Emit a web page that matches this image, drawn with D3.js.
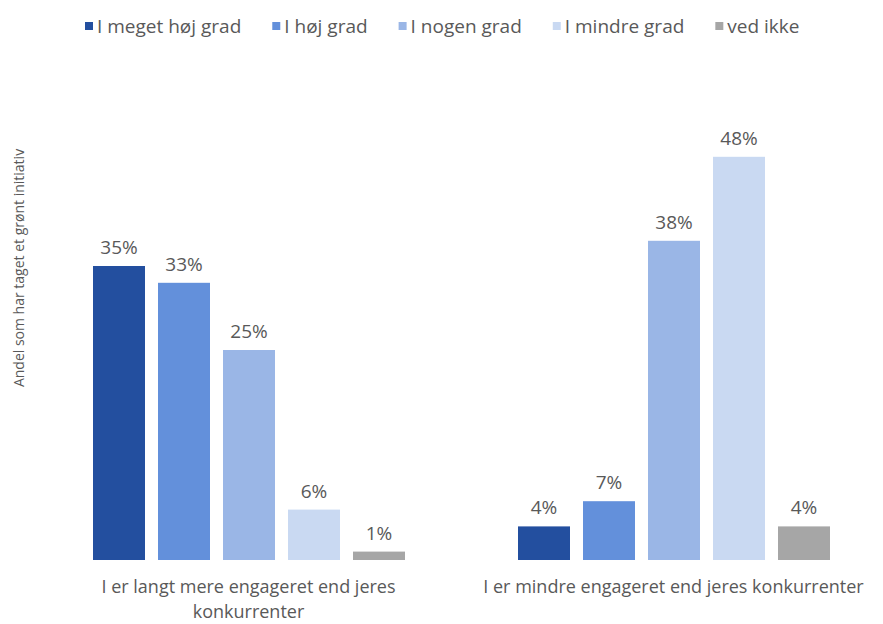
<!DOCTYPE html>
<html>
<head>
<meta charset="utf-8">
<script src="https://cdn.jsdelivr.net/npm/d3@7"></script>
<style>
  body { margin: 0; background: #fff; }
  svg text { font-family: "Open Sans", sans-serif; fill: #595959; }
</style>
</head>
<body>
<div id="chart"></div>
<script>
// data
const categories = ['I er langt mere engageret end jeres konkurrenter', 'I er mindre engageret end jeres konkurrenter'];
const seriesNames = ['I meget høj grad', 'I høj grad', 'I nogen grad', 'I mindre grad', 'ved ikke'];
const seriesColors = ['#234f9f', '#6390db', '#9ab6e6', '#c9d9f2', '#a6a6a6'];
const mereValues = [35, 33, 25, 6, 1];
const mindreValues = [4, 7, 38, 48, 4];
const yTitle = 'Andel som har taget et grønt initiativ';

const width = 883, height = 624;
const baseY = 560;

let svg = d3.select('#chart')
    .append('svg')
    .attr('width', width)
    .attr('height', height);

let x0 = d3.scaleBand()
    .domain(categories)
    .range([36, 886]);

let x1 = d3.scaleBand()
    .domain(seriesNames)
    .range([57, 369])
    .paddingInner(0.2)
    .paddingOuter(0);

let y = d3.scaleLinear()
    .domain([0, 50])
    .range([baseY, baseY - 420]);

let rows = categories.map((c, i) => ({
    cat: c,
    values: (i === 0 ? mereValues : mindreValues).map((v, j) => ({ name: seriesNames[j], value: v }))
}));

//bars
let groups = svg.selectAll('.group')
    .data(rows)
    .enter().append('g')
    .attr('class', 'group')
    .attr('transform', d => `translate(${x0(d.cat)},0)`);

groups.selectAll('rect')
    .data(d => d.values)
    .enter().append('rect')
    .attr('x', d => x1(d.name))
    .attr('y', d => y(d.value))
    .attr('width', x1.bandwidth())
    .attr('height', d => baseY - y(d.value))
    .attr('fill', (d, i) => seriesColors[i]);

//value labels
groups.selectAll('.val')
    .data(d => d.values)
    .enter().append('text')
    .attr('class', 'val')
    .attr('x', d => x1(d.name) + x1.bandwidth() / 2)
    .attr('y', d => y(d.value) - 12)
    .attr('text-anchor', 'middle')
    .style('font-size', '19px')
    .text(d => d.value + '%');

//category labels
let catText = svg.selectAll('.cat')
    .data(categories)
    .enter().append('text')
    .attr('class', 'cat')
    .attr('text-anchor', 'middle')
    .style('font-size', '18px')
    .attr('y', 593);

catText.each(function(d) {
    let t = d3.select(this);
    let cx = x0(d) + x0.bandwidth() / 2;
    let words = d.split(' ');
    let lines = [[]];
    words.forEach(w => {
        let cur = lines[lines.length - 1];
        let test = cur.concat([w]).join(' ');
        t.text(test);
        if (this.getComputedTextLength() > 395 && cur.length) lines.push([w]);
        else cur.push(w);
    });
    t.text(null);
    lines.forEach((l, i) => {
        t.append('tspan')
            .attr('x', cx)
            .attr('dy', i === 0 ? 0 : 25)
            .text(l.join(' '));
    });
});

//y title
svg.append('text')
    .attr('transform', 'translate(24,268) rotate(-90)')
    .attr('text-anchor', 'middle')
    .style('font-size', '14px')
    .text(yTitle);

//legend
let legend = svg.append('g').attr('class', 'legend');
let lx = 85;
seriesNames.forEach((name, i) => {
    let g = legend.append('g').attr('transform', `translate(${lx},0)`);
    g.append('rect')
        .attr('x', 0)
        .attr('y', 22)
        .attr('width', 8)
        .attr('height', 8)
        .attr('fill', seriesColors[i]);
    let t = g.append('text')
        .attr('x', 12)
        .attr('y', 33)
        .style('font-size', '19px')
        .text(name);
    lx += 12 + t.node().getComputedTextLength() + 31;
});
</script>
</body>
</html>
